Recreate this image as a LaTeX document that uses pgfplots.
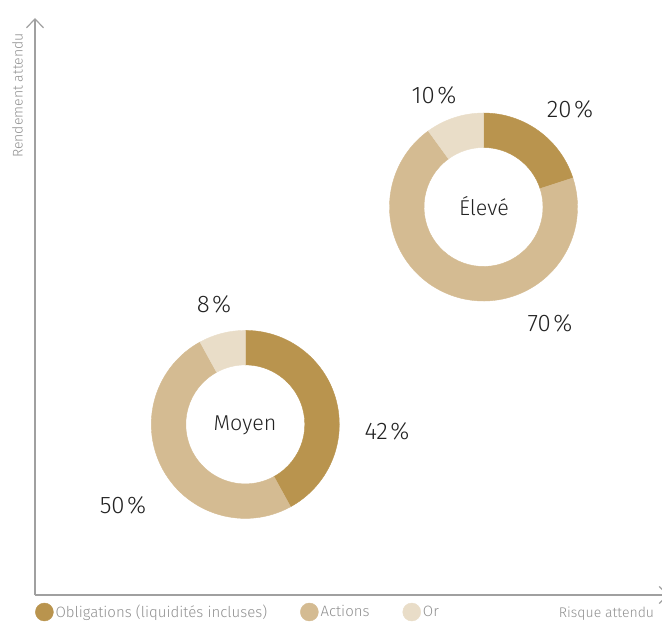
\documentclass[border=0pt]{standalone}
\usepackage{fontspec}
\setmainfont{Fira Sans}[UprightFont=* Light]
\usepackage{pgfplots}
\usepackage{pgfplotstable}
\pgfplotsset{compat=1.18}
\usetikzlibrary{arrows.meta}

\definecolor{oblig}{HTML}{B9944E}
\definecolor{actions}{HTML}{D4BB92}
\definecolor{orc}{HTML}{E9DDC8}
\definecolor{axgray}{HTML}{A0A0A0}
\definecolor{labgray}{HTML}{909090}
\definecolor{txt}{HTML}{222222}

% position (risk, return) in axis units, then shares in percent
\pgfplotstableread{
risk  ret  oblig actions or
210.3 170.6 42   50      8
448.5 388.0 20   70      10
}\donuts

% one ring segment from angle #2 to angle #3 (clockwise)
\newcommand\ring[3]{%
  \fill[#1] (#2:94pt) arc[start angle=#2, end angle=#3, radius=94pt]
    -- (#3:59.5pt) arc[start angle=#3, end angle=#2, radius=59.5pt] -- cycle;}
\newcommand\pct[1]{#1\kern2.5pt\%}

\begin{document}
\begin{tikzpicture}
\begin{axis}[
  x=1pt, y=1pt,
  xmin=0, xmax=634, ymin=0, ymax=577,
  axis lines=left,
  axis line style={draw=axgray, line width=1.2pt,
    -{Straight Barb[length=9pt, width=17pt, line width=1.2pt]}},
  xtick=\empty, ytick=\empty,
  clip=false,
  legend columns=-1,
  legend style={draw=none, fill=none, inner sep=0pt,
    at={(0,-0.0295)}, anchor=west,
    font=\fontsize{15}{17}\selectfont\color{labgray},
    /tikz/every even column/.append style={column sep=31pt}},
  legend cell align=left,
]

\addplot[forget plot, scatter, only marks, mark=*, mark size=0pt,
  mark options={draw=none, fill=none},
  visualization depends on={\thisrow{oblig}\as\po},
  visualization depends on={\thisrow{actions}\as\pac},
  scatter/@pre marker code/.code={%
    \pgfmathsetmacro\angA{90-3.6*\po}%
    \pgfmathsetmacro\angB{\angA-3.6*\pac}%
    \ring{oblig}{90}{\angA}%
    \ring{actions}{\angA}{\angB}%
    \ring{orc}{\angB}{-270}},
  scatter/@post marker code/.code={}]
  table[x=risk, y=ret] {\donuts};

\addlegendimage{legend image code/.code={\fill[oblig] (0pt,0pt) circle[radius=9pt];}}
\addlegendimage{legend image code/.code={\fill[actions] (0pt,0pt) circle[radius=9pt];}}
\addlegendimage{legend image code/.code={\fill[orc] (0pt,0pt) circle[radius=9pt];}}
\legend{Obligations (liquidités incluses), Actions, Or}

\begin{scope}[font=\fontsize{24}{28}\selectfont, text=txt]
  \node at (axis cs:352,164) {\pct{42}};
  \node at (axis cs:88,90) {\pct{50}};
  \node at (axis cs:179,291) {\pct{8}};
  \node at (axis cs:535,486) {\pct{20}};
  \node at (axis cs:399,500) {\pct{10}};
  \node at (axis cs:515,272) {\pct{70}};
\end{scope}
\node[font=\fontsize{21.5}{25}\selectfont, text=txt] at (axis cs:210,170) {Moyen};
\node[font=\fontsize{21.5}{25}\selectfont, text=txt] at (axis cs:449,389) {Élevé};

\node[rotate=90, font=\fontsize{14}{16}\selectfont, text=labgray]
  at (axis cs:-17.5,499.5) {Rendement attendu};
\node[anchor=base, font=\fontsize{14}{16}\selectfont, text=labgray]
  at (axis cs:571.5,-22) {Risque attendu};
\end{axis}
\pgfresetboundingbox
\useasboundingbox (-35pt,-27pt) rectangle (627pt,595pt);
\end{tikzpicture}
\end{document}
